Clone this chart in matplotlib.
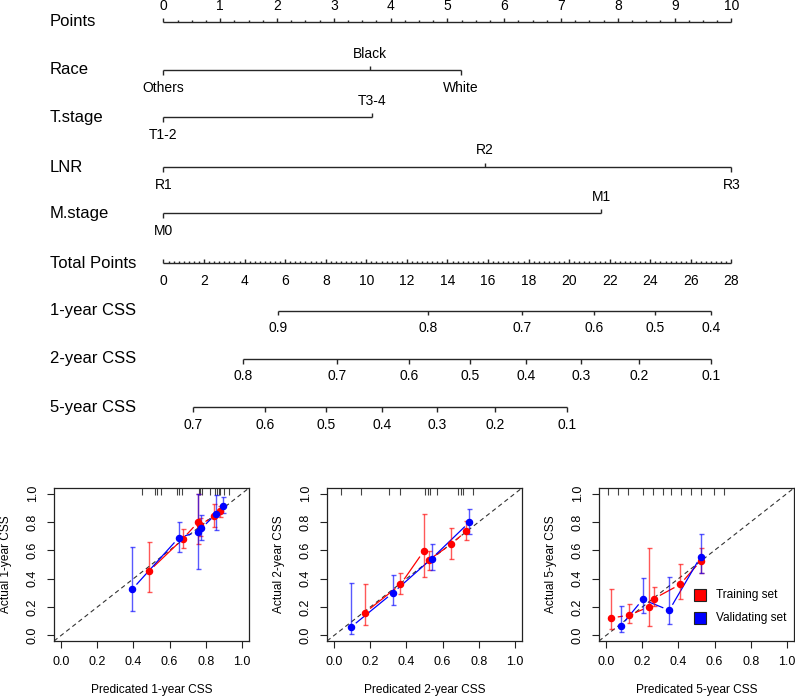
import matplotlib
matplotlib.use("Agg")
import matplotlib.pyplot as plt
import numpy as np

plt.rcParams['font.family'] = ['Liberation Sans', 'DejaVu Sans']

# ---------------- Nomogram data ----------------
points_ticks = list(range(0, 11))
race_labels = ['Others', 'Black', 'White']
race_points = [0.0, 3.64, 5.24]
race_side = ['below', 'above', 'below']
tstage_labels = ['T1-2', 'T3-4']
tstage_points = [0.0, 3.67]
tstage_side = ['below', 'above']
lnr_labels = ['R1', 'R2', 'R3']
lnr_points = [0.0, 5.66, 10.0]
lnr_side = ['below', 'above', 'below']
mstage_labels = ['M0', 'M1']
mstage_points = [0.0, 7.71]
mstage_side = ['below', 'above']
total_max = 28
total_ticks = list(range(0, 29, 2))
css1_labels = ['0.9', '0.8', '0.7', '0.6', '0.5', '0.4']
css1_total = [5.64, 13.06, 17.69, 21.22, 24.24, 27.0]
css2_labels = ['0.8', '0.7', '0.6', '0.5', '0.4', '0.3', '0.2', '0.1']
css2_total = [3.94, 8.57, 12.12, 15.12, 17.87, 20.58, 23.43, 26.98]
css5_labels = ['0.7', '0.6', '0.5', '0.4', '0.3', '0.2', '0.1']
css5_total = [1.45, 5.01, 8.01, 10.76, 13.47, 16.34, 19.87]

# ---------------- Calibration data ----------------
# 1-year
tr1_x = [0.486, 0.672, 0.757, 0.770, 0.844, 0.881]
tr1_y = [0.453, 0.679, 0.797, 0.778, 0.842, 0.877]
tr1_lo = [0.307, 0.613, 0.642, 0.700, 0.767, 0.837]
tr1_hi = [0.660, 0.748, 0.998, 0.830, 0.927, 0.913]
va1_x = [0.393, 0.651, 0.755, 0.776, 0.857, 0.896]
va1_y = [0.325, 0.689, 0.729, 0.755, 0.856, 0.913]
va1_lo = [0.170, 0.590, 0.465, 0.672, 0.743, 0.861]
va1_hi = [0.625, 0.797, 0.998, 0.849, 0.990, 0.974]
rug1 = [0.45, 0.52, 0.53, 0.55, 0.64, 0.655, 0.668, 0.761, 0.77, 0.78,
        0.826, 0.853, 0.863, 0.872, 0.881, 0.90, 0.928]
# 2-year
tr2_x = [0.171, 0.367, 0.495, 0.523, 0.648, 0.728]
tr2_y = [0.161, 0.359, 0.593, 0.532, 0.643, 0.733]
tr2_lo = [0.076, 0.291, 0.409, 0.461, 0.541, 0.674]
tr2_hi = [0.359, 0.437, 0.858, 0.598, 0.761, 0.804]
va2_x = [0.092, 0.325, 0.539, 0.749]
va2_y = [0.057, 0.300, 0.541, 0.799]
va2_lo = [0.007, 0.213, 0.461, 0.716]
va2_hi = [0.366, 0.423, 0.643, 0.891]
rug2 = [0.037, 0.147, 0.303, 0.362, 0.505, 0.518, 0.529, 0.569, 0.688,
        0.701, 0.712, 0.77]
# 5-year
tr5_x = [0.029, 0.127, 0.237, 0.266, 0.409, 0.523]
tr5_y = [0.123, 0.142, 0.201, 0.260, 0.359, 0.525]
tr5_lo = [0.047, 0.090, 0.069, 0.206, 0.255, 0.442]
tr5_hi = [0.324, 0.220, 0.615, 0.338, 0.506, 0.615]
va5_x = [0.081, 0.202, 0.349, 0.523]
va5_y = [0.066, 0.253, 0.177, 0.556]
va5_lo = [0.021, 0.158, 0.078, 0.437]
va5_hi = [0.206, 0.402, 0.409, 0.714]
rug5 = [0.011, 0.066, 0.121, 0.204, 0.259, 0.314, 0.36, 0.415, 0.47,
        0.525, 0.598, 0.653]

years = ['1', '2', '5']
legend_labels = ['Training set', 'Validating set']

# ---------------- Figure ----------------
W, H = 795, 697
fig = plt.figure(figsize=(W / 100, H / 100), dpi=100)

PX0 = 163.5
PXPT = 56.8
ax = fig.add_axes([0, 0, 1, 1])
ax.set_xlim((0 - PX0) / PXPT, (W - PX0) / PXPT)
ax.set_ylim(H, 0)
ax.axis('off')

LC = '#262626'
LW = 1.0
LABX = (50 - PX0) / PXPT
TICK_FS = 10
LAB_FS = 12


def hline(y, x0, x1):
    ax.plot([x0, x1], [y, y], color=LC, lw=LW, solid_capstyle='butt')


def tick(x, y, length):
    # positive length = upward
    ax.plot([x, x], [y, y - length], color=LC, lw=LW, solid_capstyle='butt')


# Points axis
y = 22
ax.text(LABX, y, 'Points', fontsize=LAB_FS, ha='left', va='center')
hline(y, points_ticks[0], points_ticks[-1])
for v in np.arange(points_ticks[0], points_ticks[-1] + 1e-9, 0.25):
    major = abs(v - round(v)) < 1e-9
    tick(v, y, 4.5 if major else 2.2)
for v in points_ticks:
    ax.text(v, 6, str(v), fontsize=TICK_FS, ha='center', va='center')


def cat_axis(y, name, labels, pts, sides):
    ax.text(LABX, y, name, fontsize=LAB_FS, ha='left', va='center')
    hline(y, min(pts), max(pts))
    for lab, p, s in zip(labels, pts, sides):
        if s == 'above':
            tick(p, y, 4.5)
            ax.text(p, y - 16.5, lab, fontsize=TICK_FS, ha='center', va='center')
        else:
            tick(p, y, -4.5)
            ax.text(p, y + 18, lab, fontsize=TICK_FS, ha='center', va='center')


cat_axis(70, 'Race', race_labels, race_points, race_side)
cat_axis(117.3, 'T.stage', tstage_labels, tstage_points, tstage_side)
cat_axis(167, 'LNR', lnr_labels, lnr_points, lnr_side)
cat_axis(213.3, 'M.stage', mstage_labels, mstage_points, mstage_side)

# Total points
scale = 10.0 / total_max
y = 263.3
ax.text(LABX, y, 'Total Points', fontsize=LAB_FS, ha='left', va='center')
hline(y, 0, total_max * scale)
for v in np.arange(0, total_max + 1e-9, 0.25):
    major = abs(v / 2 - round(v / 2)) < 1e-9
    tick(v * scale, y, 4.5 if major else 2.2)
for v in total_ticks:
    ax.text(v * scale, y + 17.5, str(v), fontsize=TICK_FS, ha='center', va='center')


def prob_axis(y, name, labels, totals):
    ax.text(LABX, y, name, fontsize=LAB_FS, ha='left', va='center')
    hline(y, min(totals) * scale, max(totals) * scale)
    for lab, t in zip(labels, totals):
        tick(t * scale, y, -4.5)
        ax.text(t * scale, y + 17.5, lab, fontsize=TICK_FS, ha='center', va='center')


prob_axis(310.7, '1-year CSS', css1_labels, css1_total)
prob_axis(359, '2-year CSS', css2_labels, css2_total)
prob_axis(407.3, '5-year CSS', css5_labels, css5_total)

# ---------------- Calibration panels ----------------
panel_left_px = [54, 327, 599]
pw, ptop, pbot = 195, 488, 641
RED = '#FF0000'
BLUE = '#0000FF'
GAP = 7.0

datasets = [
    (tr1_x, tr1_y, tr1_lo, tr1_hi, va1_x, va1_y, va1_lo, va1_hi, rug1),
    (tr2_x, tr2_y, tr2_lo, tr2_hi, va2_x, va2_y, va2_lo, va2_hi, rug2),
    (tr5_x, tr5_y, tr5_lo, tr5_hi, va5_x, va5_y, va5_lo, va5_hi, rug5),
]


def gapped_line(a, xs, ys, color):
    trans = a.transData
    pts = trans.transform(np.column_stack([xs, ys]))
    inv = trans.inverted()
    for p, q in zip(pts[:-1], pts[1:]):
        d = q - p
        L = np.hypot(d[0], d[1])
        if L <= 2 * GAP + 1:
            continue
        u = d / L
        seg = inv.transform(np.array([p + u * GAP, q - u * GAP]))
        a.plot(seg[:, 0], seg[:, 1], color=color, lw=0.9, zorder=3)


for i, (yr, dset) in enumerate(zip(years, datasets)):
    tx, ty, tlo, thi, vx, vy, vlo, vhi, rug = dset
    left = panel_left_px[i] / W
    bottom = (H - pbot) / H
    a = fig.add_axes([left, bottom, pw / W, (pbot - ptop) / H])
    a.set_xlim(-0.04, 1.04)
    a.set_ylim(-0.04, 1.04)
    for sp in a.spines.values():
        sp.set_color('#222222')
        sp.set_linewidth(0.9)
    a.plot([-0.04, 1.04], [-0.04, 1.04], color='#333333', lw=0.8,
           dashes=(4, 3), zorder=2)
    a.vlines(rug, 0.955, 1.0, color='#444444', lw=0.8,
             transform=a.get_xaxis_transform())

    for (xs, ys, lo, hi, col, al) in [(tx, ty, tlo, thi, RED, 0.65),
                                      (vx, vy, vlo, vhi, BLUE, 0.65)]:
        ys_a = np.array(ys)
        yerr = [ys_a - np.array(lo), np.array(hi) - ys_a]
        a.errorbar(xs, ys, yerr=yerr, fmt='none', ecolor=col, alpha=al,
                   elinewidth=1.0, capsize=1.8, capthick=1.0, zorder=4)
        gapped_line(a, xs, ys, col)
        a.plot(xs, ys, 'o', color=col, ms=4.4, mec=col, zorder=5)

    ticks = [0.0, 0.2, 0.4, 0.6, 0.8, 1.0]
    a.set_xticks(ticks)
    a.set_yticks(ticks)
    a.set_xticklabels([f'{t:.1f}' for t in ticks])
    a.set_yticklabels([f'{t:.1f}' for t in ticks], rotation=90, va='center')
    a.tick_params(direction='out', length=5, width=0.8, pad=6,
                  labelsize=9, color='#222222')
    a.set_xlabel(f'Predicated {yr}-year CSS', fontsize=8.6)
    a.xaxis.label.set_va('center')
    a.xaxis.set_label_coords(0.5, (pbot - 690) / (pbot - ptop))
    a.set_ylabel(f'Actual {yr}-year CSS', fontsize=8.6)
    a.yaxis.label.set_va('center')
    a.yaxis.set_label_coords(-48 / pw, 0.5)

    if i == 2:
        for lab, col, yy in zip(legend_labels, [RED, BLUE], [595, 618]):
            ya = (pbot - yy) / (pbot - ptop)
            a.plot([(700 - panel_left_px[i]) / pw], [ya], 's', ms=8,
                   mfc=col, mec='#222222', mew=0.8,
                   transform=a.transAxes, clip_on=False, zorder=6)
            a.text((716 - panel_left_px[i]) / pw, ya, lab, fontsize=8.6,
                   ha='left', va='center', transform=a.transAxes)

fig.savefig('out.png', dpi=100)
